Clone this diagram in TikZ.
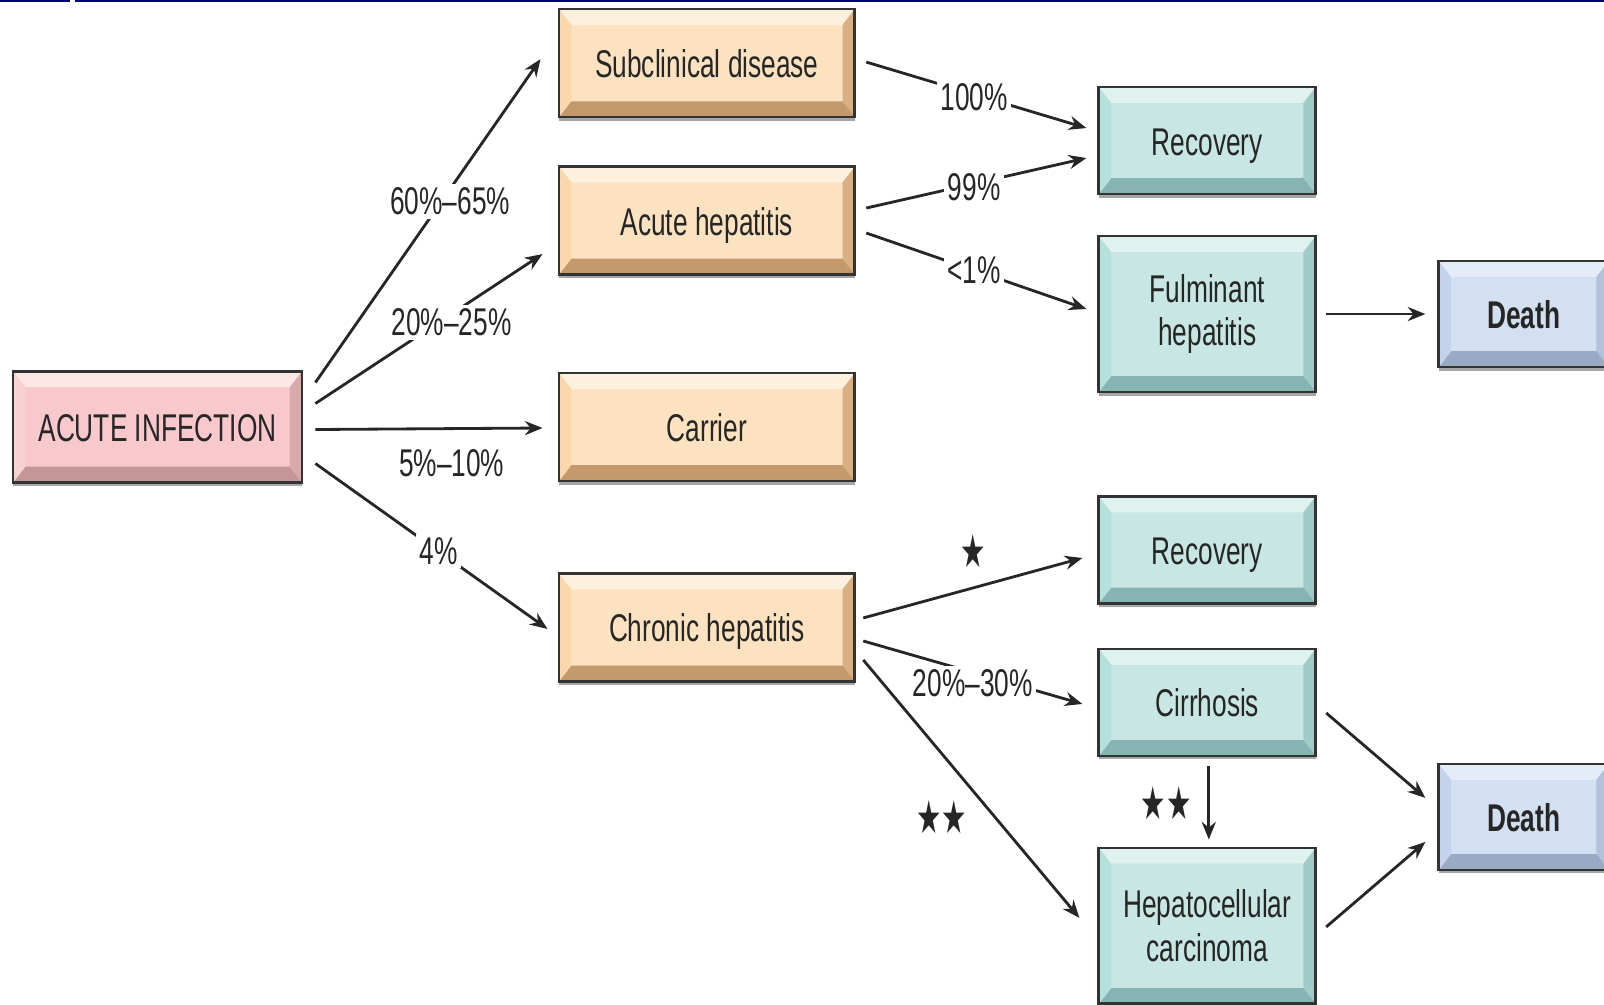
\documentclass[tikz,border=0pt]{standalone}
\usepackage{fontspec}
\setmainfont{Liberation Sans}[FakeStretch=0.68]
\newfontfamily\starfont{DejaVu Sans}[FakeStretch=0.62]
\usetikzlibrary{arrows.meta,positioning,calc,shadows}

\definecolor{navyline}{HTML}{000080}
\definecolor{orTop}{HTML}{FDF0DC}
\definecolor{orFace}{HTML}{FCE2C0}
\definecolor{orLeft}{HTML}{FAD7AC}
\definecolor{orRight}{HTML}{D8B083}
\definecolor{orBot}{HTML}{C49A6D}
\definecolor{tlTop}{HTML}{E0F2F0}
\definecolor{tlFace}{HTML}{C8E6E3}
\definecolor{tlLeft}{HTML}{B6E0DC}
\definecolor{tlRight}{HTML}{A0CCC8}
\definecolor{tlBot}{HTML}{85B4B2}
\definecolor{blTop}{HTML}{E4ECF7}
\definecolor{blFace}{HTML}{D3E0F1}
\definecolor{blLeft}{HTML}{C3D3EE}
\definecolor{blRight}{HTML}{B2C2DA}
\definecolor{blBot}{HTML}{99AAC4}
\definecolor{pkTop}{HTML}{FCE6E6}
\definecolor{pkFace}{HTML}{F8C8CC}
\definecolor{pkLeft}{HTML}{F7D2D3}
\definecolor{pkRight}{HTML}{D8AAAC}
\definecolor{pkBot}{HTML}{C39798}

\newcommand*\bvx{7pt}
\newcommand*\bvy{9pt}

\tikzset{
  bevel/.style n args={4}{path picture={
    \fill[#1] (path picture bounding box.north west) -- (path picture bounding box.north east)
      -- ([shift={(-\bvx,-\bvy)}]path picture bounding box.north east)
      -- ([shift={(\bvx,-\bvy)}]path picture bounding box.north west) -- cycle;
    \fill[#2] (path picture bounding box.north east) -- (path picture bounding box.south east)
      -- ([shift={(-\bvx,\bvy)}]path picture bounding box.south east)
      -- ([shift={(-\bvx,-\bvy)}]path picture bounding box.north east) -- cycle;
    \fill[#3] (path picture bounding box.south east) -- (path picture bounding box.south west)
      -- ([shift={(\bvx,\bvy)}]path picture bounding box.south west)
      -- ([shift={(-\bvx,\bvy)}]path picture bounding box.south east) -- cycle;
    \fill[#4] (path picture bounding box.south west) -- (path picture bounding box.north west)
      -- ([shift={(\bvx,-\bvy)}]path picture bounding box.north west)
      -- ([shift={(\bvx,\bvy)}]path picture bounding box.south west) -- cycle;
  }},
  box/.style={rectangle, draw=black!80, line width=1.6pt, align=center, inner sep=0pt,
    minimum width=5.92cm, minimum height=2.16cm, text=black!85,
    font=\fontsize{22}{25}\selectfont,
    drop shadow={shadow xshift=0pt, shadow yshift=-2pt, fill=black!35, opacity=1}},
  oneline/.style={text height=16.5pt, text depth=0pt},
  orangebox/.style={box, oneline, fill=orFace, bevel={orTop}{orRight}{orBot}{orLeft}},
  tealbox/.style={box, fill=tlFace, bevel={tlTop}{tlRight}{tlBot}{tlLeft},
    minimum width=4.34cm, minimum height=2.14cm},
  bluebox/.style={box, oneline, fill=blFace, bevel={blTop}{blRight}{blBot}{blLeft},
    minimum width=3.4cm, minimum height=2.12cm, font=\fontsize{22}{25}\selectfont\bfseries},
  pinkbox/.style={box, oneline, fill=pkFace, bevel={pkTop}{pkRight}{pkBot}{pkLeft},
    minimum width=5.78cm, minimum height=2.22cm},
  arr/.style={->, draw=black!85, line width=1.6pt},
  lbl/.style={fill=white, inner sep=2pt, text=black!85, font=\fontsize{22}{25}\selectfont},
  starlbl/.style={inner sep=1pt, text=black!85, font=\starfont\fontsize{26}{26}\selectfont}
}

\begin{document}
\begin{tikzpicture}[x=0.02cm, y=-0.02cm, on grid, >={Stealth[length=10pt,width=8pt]}]
   \useasboundingbox (0,0) rectangle (1604,1004);
   \clip (0,0) rectangle (1604,1004);
   \draw[navyline, line width=1.2pt] (0,1) -- (70,1) (75,1) -- (1604,1);

   \node[pinkbox] (acute) at (157.5,427) {ACUTE INFECTION};
   \node[orangebox] (carrier) [right=10.99cm of acute] {Carrier};
   \node[orangebox] (ahep) [above=4.13cm of carrier] {Acute hepatitis};
   \node[orangebox] (sub) [above=3.15cm of ahep] {Subclinical disease};
   \node[orangebox] (chronic) [below=4.01cm of carrier] {Chronic hepatitis};
   \node[tealbox, oneline] (rec1) [below right=1.55cm and 10.01cm of sub] {Recovery};
   \node[tealbox, minimum height=3.12cm] (fulm) [below=3.47cm of rec1] {Fulminant\\hepatitis};
   \node[bluebox] (death1) [right=6.33cm of fulm] {Death};
   \node[tealbox, oneline] (rec2) [above right=1.55cm and 10.01cm of chronic] {Recovery};
   \node[tealbox, oneline] (cirr) [below=3.05cm of rec2] {Cirrhosis};
   \node[tealbox, minimum height=3.12cm] (hcc) [below=4.47cm of cirr] {Hepatocellular\\carcinoma};
   \node[bluebox] (death2) [below right=2.29cm and 6.33cm of cirr] {Death};

   % from the acute infection
   \draw[arr] ($(acute.east)+(12,-44.5)$) -- node[lbl, pos=0.56, xshift=5pt] {60\%--65\%} ($(sub.west)+(-17,-4)$);
   \draw[arr] ($(acute.east)+(12,-23.5)$) -- node[lbl, pos=0.6, yshift=-5pt] {20\%--25\%} ($(ahep.west)+(-15,33.5)$);
   \draw[arr] ($(acute.east)+(12,2.5)$) -- node[lbl, below=9pt, pos=0.6, fill=none] {5\%--10\%} ($(carrier.west)+(-15,1)$);
   \draw[arr] ($(acute.east)+(12,36.5)$) -- node[lbl, pos=0.53] {4\%} ($(chronic.west)+(-10,1.5)$);

   % acute course
   \draw[arr] ($(sub.east)+(10,-1)$) -- node[lbl, pos=0.49, yshift=-1.5pt] {100\%} ($(rec1.west)+(-11,-12.5)$);
   \draw[arr] ($(ahep.east)+(10,-12.5)$) -- node[lbl, pos=0.49, yshift=-2pt] {99\%} ($(rec1.west)+(-11,17.5)$);
   \draw[arr] ($(ahep.east)+(10,12.5)$) -- node[lbl, pos=0.49] {<1\%} ($(fulm.west)+(-11,-5)$);
   \draw[arr] ($(fulm.east)+(9,0)$) -- ($(death1.west)+(-12,0)$);

   % chronic course
   \draw[arr] ($(chronic.east)+(7,-9.5)$) -- node[starlbl, above=10pt, pos=0.5] {★} ($(rec2.west)+(-15,8)$);
   \draw[arr] ($(chronic.east)+(7,13.5)$) -- node[lbl, pos=0.5, yshift=-6pt] {20\%--30\%} ($(cirr.west)+(-15,1.5)$);
   \draw[arr] ($(chronic.east)+(7,32.5)$) -- node[starlbl, left=14pt, pos=0.61] {★★} ($(hcc.west)+(-18,-8)$);
   \draw[arr] ($(cirr.south)+(1.5,9)$) -- node[starlbl, left=8pt, midway] {★★} ($(hcc.north)+(1.5,-7)$);
   \draw[arr] ($(cirr.east)+(9,10.5)$) -- ($(death2.west)+(-12,-19)$);
   \draw[arr] ($(hcc.east)+(9,1)$) -- ($(death2.west)+(-12,25)$);
\end{tikzpicture}
\end{document}
